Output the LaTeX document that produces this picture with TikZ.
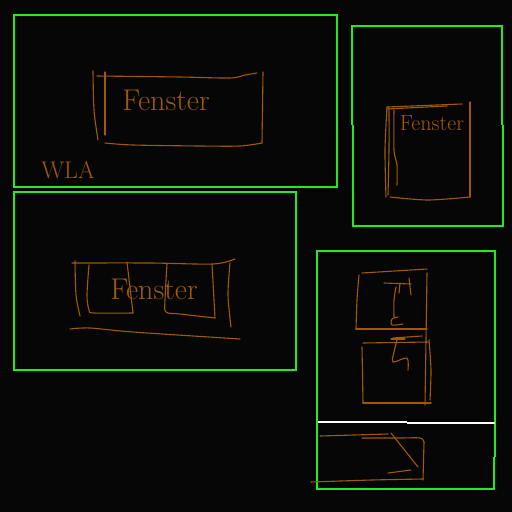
\documentclass[tikz,border=0pt]{standalone}
\definecolor{bg}{RGB}{6,6,6}
\definecolor{frame}{RGB}{34,235,34}
\definecolor{ink}{RGB}{158,90,8}
\tikzset{
  frm/.style={draw=frame,line width=1.2pt},
  wline/.style={draw=white,line width=1.2pt},
  stroke/.style={draw=ink,line width=1.1pt,line cap=round,line join=round},
  hand/.style={text=ink,inner sep=0pt,anchor=center},
}
\begin{document}
\begin{tikzpicture}[x=1pt,y=-1pt]
\fill[bg] (0,0) rectangle (512,512);
\useasboundingbox (0,0) rectangle (512,512);
% frames
\draw[frm] (14,15) rectangle (337,187);
\draw[frm] (14,192) rectangle (296,370);
\draw[frm] (352,125) -- (352,26) -- (502,26) -- (502,125);
\draw[frm] (353,125) -- (353,226) -- (503,226) -- (503,125);
\draw[frm] (317,422) -- (317,251) -- (495,251) -- (495,457);
\draw[frm] (317,422) -- (317,489) -- (494,489) -- (494,457);
\draw[wline] (318,422) -- (407,422);
\draw[wline] (407,423) -- (495,423);
% sketch 1
\draw[stroke] plot[smooth] coordinates {(93,71) (94,110) (98,140)};
\draw[stroke] (105,72) -- (105,135);
\draw[stroke] plot[smooth] coordinates {(97,76) (180,77) (230,78) (245,75) (257,73)};
\draw[stroke] (263,72) -- (262,143);
\draw[stroke] plot[smooth] coordinates {(105,143) (133,145) (200,146) (240,146) (262,143)};
\node[hand,font=\fontsize{30}{30}\selectfont] (f1) at (166,100) {Fenster};
\node[hand,font=\fontsize{24}{24}\selectfont] (wla) at (68,170) {WLA};
% sketch 2
\draw[stroke] plot[smooth] coordinates {(387,107) (385,150) (386,197)};
\draw[stroke] plot[smooth] coordinates {(389,107) (389,150) (388,195)};
\draw[stroke] plot[smooth] coordinates {(394,110) (394,150) (397,165) (397,185)};
\draw[stroke] (387,107) -- (462,104);
\draw[stroke] (387,109) -- (447,106);
\draw[stroke] (470,102) -- (470,197);
\draw[stroke] plot[smooth] coordinates {(390,197) (428,200) (470,197)};
\node[hand,font=\fontsize{22}{22}\selectfont] (f2) at (432,123) {Fenster};
% sketch 3
\draw[stroke] plot[smooth] coordinates {(72,263) (150,263) (213,264) (235,259)};
\draw[stroke] plot[smooth] coordinates {(75,261) (76,295) (80,316)};
\draw[stroke] plot[smooth] coordinates {(89,265) (87,295) (89,310) (94,313) (133,313)};
\draw[stroke] (127,262) -- (133,313);
\draw[stroke] plot[smooth] coordinates {(167,264) (165,300) (166,312) (180,314) (215,318)};
\draw[stroke] (212,264) -- (215,318);
\draw[stroke] plot[smooth] coordinates {(230,263) (228,295) (231,327)};
\draw[stroke] plot[smooth] coordinates {(70,329) (90,328) (133,332) (240,339)};
\node[hand,font=\fontsize{30}{30}\selectfont] (f3) at (154,289) {Fenster};
% sketch 4, upper part
\draw[stroke] (362,273) -- (427,269);
\draw[stroke] plot[smooth] coordinates {(359,275) (357,300) (356,329)};
\draw[stroke] (356,329) -- (427,329);
\draw[stroke] plot[smooth] coordinates {(427,273) (426,340) (425,405)};
\draw[stroke] (363,343) -- (428,342);
\draw[stroke] (393,338) -- (422,336);
\draw[stroke] (362,347) -- (363,403);
\draw[stroke] (363,403) -- (431,403);
\draw[stroke] plot[smooth] coordinates {(429,340) (431,370) (430,400)};
\draw[stroke] (384,283) -- (411,284);
\draw[stroke] plot[smooth] coordinates {(396,287) (394,300) (394,317)};
\draw[stroke] (400,283) -- (399,293);
\draw[stroke] (409,278) -- (411,295);
\draw[stroke] plot[smooth] coordinates {(398,317) (392,319) (392,325) (403,324)};
\draw[stroke] (391,339) -- (405,339);
\draw[stroke] plot[smooth] coordinates {(397,340) (394,352) (393,362) (407,358) (408,370)};
% sketch 4, lower part
\draw[stroke] (320,436) -- (388,434);
\draw[stroke] plot[smooth] coordinates {(362,438) (400,438) (420,438) (424,442)};
\draw[stroke] (424,442) -- (423,480);
\draw[stroke] (391,433) -- (418,467);
\draw[stroke] (388,473) -- (411,470);
\draw[stroke] plot[smooth] coordinates {(311,482) (372,480) (423,479)};
\end{tikzpicture}
\end{document}
